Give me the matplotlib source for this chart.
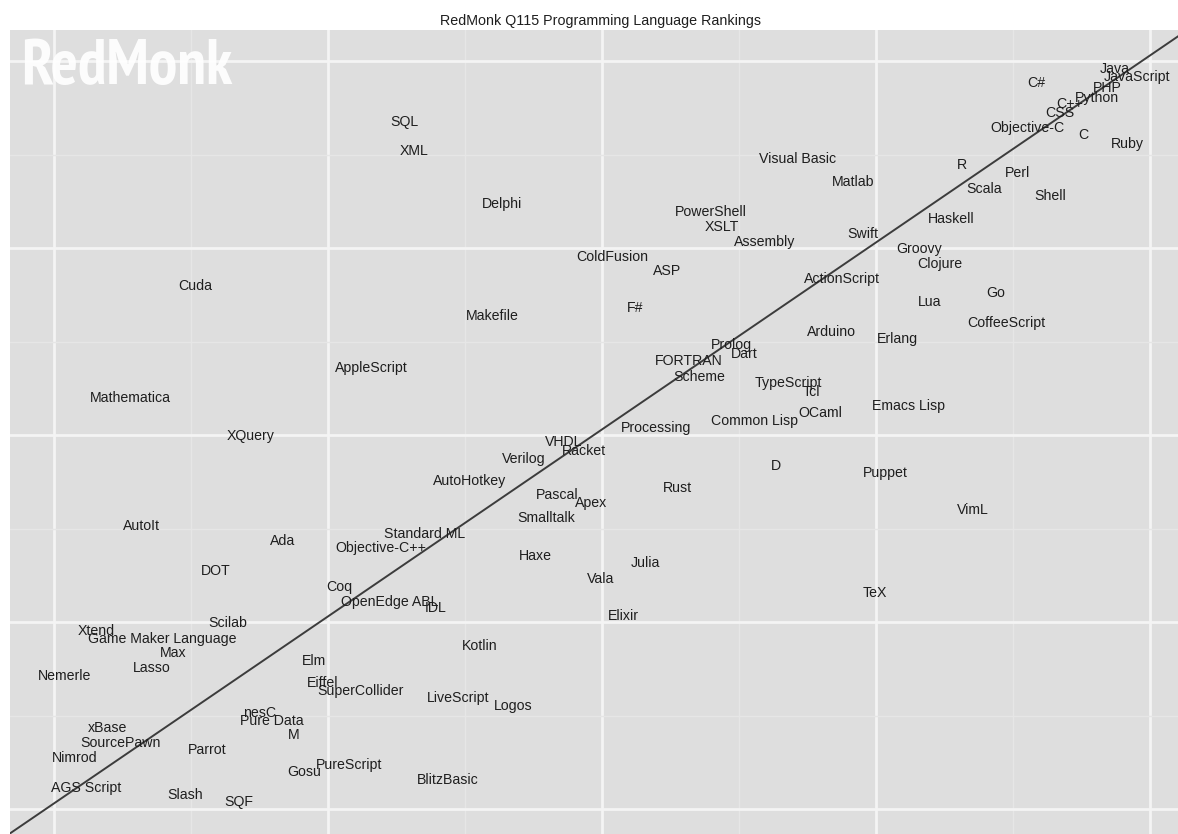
import numpy as np
import matplotlib
matplotlib.use("Agg")
import matplotlib.pyplot as plt
from matplotlib import font_manager
from matplotlib.font_manager import FontProperties

# language labels and their position (x: GitHub side, y: StackOverflow side, arbitrary units)
langs = ["Java", "JavaScript", "PHP", "Python", "C#", "C++", "CSS", "Objective-C", "C", "Ruby",
         "Visual Basic", "R", "Perl", "Matlab", "Scala", "Shell", "PowerShell", "Haskell", "XSLT", "Swift",
         "Assembly", "Groovy", "ColdFusion", "Clojure", "ASP", "ActionScript", "Go", "Lua", "CoffeeScript", "Arduino",
         "Erlang", "Prolog", "Dart", "FORTRAN", "Scheme", "TypeScript", "Tcl", "Emacs Lisp", "OCaml", "Common Lisp",
         "Processing", "D", "Puppet", "Rust", "VimL", "Julia", "Vala", "TeX", "Elixir", "SQL",
         "XML", "Delphi", "Cuda", "F#", "Makefile", "AppleScript", "Mathematica", "XQuery", "VHDL", "Racket",
         "Verilog", "AutoHotkey", "Pascal", "Apex", "Smalltalk", "AutoIt", "Standard ML", "Ada", "Objective-C++", "Haxe",
         "DOT", "Coq", "OpenEdge ABL", "IDL", "Scilab", "Xtend", "Game Maker Language", "Max", "Kotlin", "Elm",
         "Lasso", "Nemerle", "Eiffel", "SuperCollider", "LiveScript", "Logos", "nesC", "Pure Data", "xBase", "M",
         "SourcePawn", "Parrot", "Nimrod", "PureScript", "Gosu", "BlitzBasic", "AGS Script", "Slash", "SQF"]

github = [3.872, 3.953, 3.843, 3.807, 3.584, 3.708, 3.672, 3.551, 3.755, 3.916,
          2.715, 3.314, 3.515, 2.916, 3.394, 3.635, 2.398, 3.274, 2.438, 2.953,
          2.595, 3.157, 2.036, 3.234, 2.237, 2.876, 3.438, 3.197, 3.474, 2.836,
          3.077, 2.474, 2.518, 2.318, 2.354, 2.679, 2.763, 3.117, 2.796, 2.555,
          2.197, 2.635, 3.033, 2.277, 3.354, 2.157, 1.996, 2.996, 2.077, 1.277,
          1.314, 1.635, 0.515, 2.120, 1.599, 1.157, 0.277, 0.719, 1.861, 1.934,
          1.715, 1.515, 1.836, 1.960, 1.796, 0.318, 1.354, 0.836, 1.193, 1.755,
          0.591, 1.040, 1.226, 1.394, 0.635, 0.153, 0.394, 0.434, 1.555, 0.949,
          0.358, 0.040, 0.982, 1.117, 1.474, 1.675, 0.752, 0.796, 0.197, 0.876,
          0.241, 0.558, 0.077, 1.077, 0.912, 1.438, 0.117, 0.478, 0.675]

stackoverflow = [3.957, 3.914, 3.856, 3.802, 3.882, 3.770, 3.722, 3.642, 3.604, 3.556,
                 3.476, 3.444, 3.401, 3.353, 3.316, 3.278, 3.193, 3.155, 3.112, 3.075,
                 3.032, 2.995, 2.952, 2.914, 2.877, 2.834, 2.759, 2.711, 2.599, 2.551,
                 2.513, 2.481, 2.433, 2.396, 2.310, 2.278, 2.230, 2.155, 2.118, 2.075,
                 2.037, 1.834, 1.797, 1.717, 1.599, 1.316, 1.230, 1.155, 1.032, 3.674,
                 3.519, 3.235, 2.797, 2.679, 2.636, 2.358, 2.198, 1.995, 1.963, 1.914,
                 1.872, 1.754, 1.679, 1.636, 1.556, 1.513, 1.471, 1.433, 1.396, 1.353,
                 1.273, 1.187, 1.107, 1.075, 0.995, 0.952, 0.909, 0.834, 0.872, 0.791,
                 0.754, 0.711, 0.674, 0.631, 0.594, 0.551, 0.513, 0.471, 0.433, 0.396,
                 0.353, 0.316, 0.273, 0.235, 0.198, 0.155, 0.112, 0.075, 0.037]

fit_intercept = 0.03
fit_slope = 1.0

title = "RedMonk Q115 Programming Language Rankings"


def narrow_bold_font():
    # look for a condensed / narrow bold face for the watermark
    best = None
    for f in font_manager.fontManager.ttflist:
        w = f.weight if isinstance(f.weight, int) else (700 if 'bold' in str(f.weight).lower() else 400)
        narrow = ('Narrow' in f.name or 'Condensed' in f.name or 'Condensed' in f.fname
                  or 'condensed' in str(f.stretch))
        if narrow and w >= 600 and 'Oblique' not in f.fname and 'Italic' not in f.fname:
            score = 2 if 'Narrow' in f.name else 1
            if best is None or score > best[0]:
                best = (score, f.fname)
    if best:
        return FontProperties(fname=best[1])
    return FontProperties(family='Liberation Sans', weight='bold')


plt.rcParams['font.family'] = ['Liberation Sans', 'DejaVu Sans']

fig = plt.figure(figsize=(11.78, 8.34), dpi=100)
W, H = 1178, 834
ax = fig.add_axes([10 / W, 0, 1 - 10 / W, (H - 30) / H])
ax.set_facecolor('#dedede')

ax.set_xticks(np.arange(0, 5))
ax.set_yticks(np.arange(0, 5))
ax.set_xticks(np.arange(0.5, 5, 1), minor=True)
ax.set_yticks(np.arange(0.5, 5, 1), minor=True)
ax.set_xlim(-0.1606, 4.102)
ax.set_ylim(-0.1337, 4.166)
ax.grid(which='major', color='#f4f4f4', lw=2.0)
ax.grid(which='minor', color='#e6e6e6', lw=1.0)
ax.tick_params(which='both', length=0, labelbottom=False, labelleft=False)
for s in ax.spines.values():
    s.set_visible(False)
ax.set_axisbelow(True)

ax.axline((0, fit_intercept), slope=fit_slope, color='#3c3c3c', lw=1.4, zorder=2)

for name, gx, so in zip(langs, github, stackoverflow):
    ax.text(gx, so, name, ha='center', va='center', fontsize=10.2,
            color='#1e1e1e', zorder=3)

fig.text(600 / W, 1 - 21 / H, title, ha='center', va='center',
         fontsize=10.3, color='#1e1e1e')

# watermark, sized so its width matches (~212 px) without getting too tall
fp = narrow_bold_font()
wm = ax.text((21 - 10) / (W - 10), (H - 84) / (H - 30), "RedMonk", transform=ax.transAxes,
             ha='left', va='baseline', fontproperties=fp, fontsize=41,
             color='white', alpha=0.92, zorder=1)
renderer = fig.canvas.get_renderer()
wpx = wm.get_window_extent(renderer).width
wm.set_fontsize(min(46, 41 * 212 / wpx))

fig.savefig("out.png", dpi=100)
